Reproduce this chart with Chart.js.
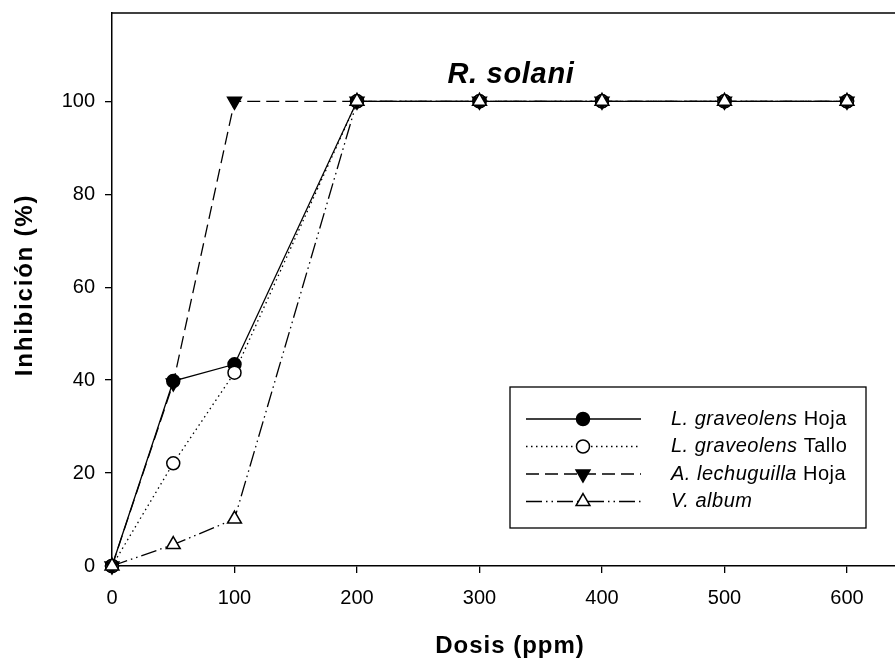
<!DOCTYPE html>
<html>
<head>
<meta charset="utf-8">
<script src="https://cdn.jsdelivr.net/npm/chart.js@4"></script>
<style>
  html, body { margin: 0; padding: 0; background: #fff; overflow: hidden; }
  #wrap { width: 910px; height: 662px; position: relative; }
</style>
</head>
<body>
<div id="wrap"><canvas id="c"></canvas></div>
<script>
// Datos (Dosis en ppm, inhibición en %)
const dosis = [0, 50, 100, 200, 300, 400, 500, 600]
const graveolensHoja = [0, 39.8, 43.4, 100, 100, 100, 100, 100]
const graveolensTallo = [0, 22.1, 41.6, 100, 100, 100, 100, 100]
const lechuguillaHoja = [0, 39.4, 100, 100, 100, 100, 100, 100]
const vAlbum = [0, 4.6, 10.1, 100, 100, 100, 100, 100]

const xTicks = [0, 100, 200, 300, 400, 500, 600]
const yTicks = [0, 20, 40, 60, 80, 100]

// etiquetas de leyenda: [cursiva, normal]
const legendLabels = [
  ['L. graveolens', ' Hoja'],
  ['L. graveolens', ' Tallo'],
  ['A. lechuguilla', ' Hoja'],
  ['V. album', '']
]

const FONT = '"Liberation Sans", Arial, Helvetica, sans-serif'

function pts (ys) {
  return dosis.map((x, i) => ({ x, y: ys[i] }))
}

const base = {
  borderColor: '#000',
  borderWidth: 1.3,
  pointBorderColor: '#000',
  pointBorderWidth: 1.5,
  clip: false,
  tension: 0
}

const datasets = [
  { ...base, label: 'L. graveolens Hoja', data: pts(graveolensHoja), borderDash: [],
    pointStyle: 'circle', pointRadius: 6.5, pointBackgroundColor: '#000', order: 4 },
  { ...base, label: 'L. graveolens Tallo', data: pts(graveolensTallo), borderDash: [1.5, 3.5],
    pointStyle: 'circle', pointRadius: 6.5, pointBackgroundColor: '#fff', order: 3 },
  { ...base, label: 'A. lechuguilla Hoja', data: pts(lechuguillaHoja), borderDash: [13, 6],
    pointStyle: 'triangle', pointRotation: 180, pointRadius: 8, pointBackgroundColor: '#000', order: 2 },
  { ...base, label: 'V. album', data: pts(vAlbum), borderDash: [16, 4, 1.5, 4, 1.5, 4],
    pointStyle: 'triangle', pointRadius: 8, pointBackgroundColor: '#fff', order: 1 }
]

// ── Marco, título, títulos de ejes y leyenda ────────────────────────────
const extras = {
  id: 'extras',
  afterDraw (chart) {
    const ctx = chart.ctx
    const a = chart.chartArea
    ctx.save()

    // borde superior
    ctx.strokeStyle = '#000'
    ctx.lineWidth = 1.5
    ctx.beginPath()
    ctx.moveTo(a.left, a.top)
    ctx.lineTo(a.right, a.top)
    ctx.stroke()

    // título
    ctx.fillStyle = '#000'
    ctx.textAlign = 'center'
    ctx.textBaseline = 'middle'
    ctx.letterSpacing = '0.7px'
    ctx.font = 'italic bold 29px ' + FONT
    ctx.fillText('R. solani', 511, 75)

    // títulos de ejes
    ctx.font = 'bold 24px ' + FONT
    ctx.letterSpacing = '1px'
    ctx.fillText('Dosis (ppm)', 510, 646)
    ctx.save()
    ctx.translate(25, 285)
    ctx.rotate(-Math.PI / 2)
    ctx.letterSpacing = '1.8px'
    ctx.fillText('Inhibición (%)', 0, 0)
    ctx.restore()

    // leyenda
    const box = { x: 510, y: 387, w: 356, h: 141 }
    ctx.letterSpacing = '0px'
    ctx.lineWidth = 1.3
    ctx.setLineDash([])
    ctx.fillStyle = '#fff'
    ctx.strokeStyle = '#000'
    ctx.fillRect(box.x, box.y, box.w, box.h)
    ctx.strokeRect(box.x, box.y, box.w, box.h)

    const rowY = [419, 446.5, 474, 501.5]
    chart.data.datasets.forEach((ds, i) => {
      const y = rowY[i]
      ctx.save()
      ctx.strokeStyle = '#000'
      ctx.lineWidth = ds.borderWidth
      ctx.setLineDash(ds.borderDash)
      ctx.beginPath()
      ctx.moveTo(526, y)
      ctx.lineTo(641, y)
      ctx.stroke()
      ctx.restore()

      ctx.save()
      ctx.setLineDash([])
      ctx.fillStyle = ds.pointBackgroundColor
      ctx.strokeStyle = '#000'
      ctx.lineWidth = ds.pointBorderWidth
      Chart.helpers.drawPoint(ctx, {
        pointStyle: ds.pointStyle,
        radius: ds.pointRadius,
        rotation: ds.pointRotation || 0,
        borderWidth: ds.pointBorderWidth
      }, 583, y)
      ctx.restore()

      const [it, rest] = legendLabels[i]
      ctx.fillStyle = '#000'
      ctx.textAlign = 'left'
      ctx.textBaseline = 'middle'
      ctx.letterSpacing = '0.5px'
      ctx.font = 'italic 20px ' + FONT
      ctx.fillText(it, 671, y)
      const w = ctx.measureText(it).width
      ctx.font = '20px ' + FONT
      ctx.fillText(rest, 671 + w, y)
    })
    ctx.restore()
  }
}

const chart = new Chart(document.getElementById('c'), {
  type: 'line',
  data: { datasets },
  options: {
    responsive: true,
    maintainAspectRatio: false,
    animation: false,
    layout: { padding: { top: 13, right: 0, left: 0, bottom: 0 } },
    plugins: {
      legend: { display: false },
      tooltip: { enabled: false }
    },
    scales: {
      x: {
        type: 'linear',
        min: 0,
        max: 650,
        afterBuildTicks: s => { s.ticks = xTicks.map(v => ({ value: v })) },
        afterFit: s => { s.height = 96; s.paddingLeft = 0; s.paddingRight = 0 },
        grid: { drawOnChartArea: false, drawTicks: true, tickLength: 7, color: '#000', lineWidth: 1.3 },
        border: { display: true, color: '#000', width: 1.5 },
        ticks: { color: '#000', font: { family: FONT, size: 20 }, padding: 13, maxRotation: 0 }
      },
      y: {
        type: 'linear',
        min: 0,
        max: 119,
        afterBuildTicks: s => { s.ticks = yTicks.map(v => ({ value: v })) },
        afterFit: s => { s.width = 112; s.paddingTop = 0; s.paddingBottom = 0 },
        grid: { drawOnChartArea: false, drawTicks: true, tickLength: 7, color: '#000', lineWidth: 1.3 },
        border: { display: true, color: '#000', width: 1.5 },
        ticks: { color: '#000', font: { family: FONT, size: 20 }, padding: 10 }
      }
    }
  },
  plugins: [extras]
})

// el eje x del original está recortado a la derecha: 600 ppm cae en x≈847
const area = chart.chartArea
chart.options.scales.x.max = 600 * (area.right - area.left) / (847 - 112)
chart.update()
</script>
</body>
</html>
